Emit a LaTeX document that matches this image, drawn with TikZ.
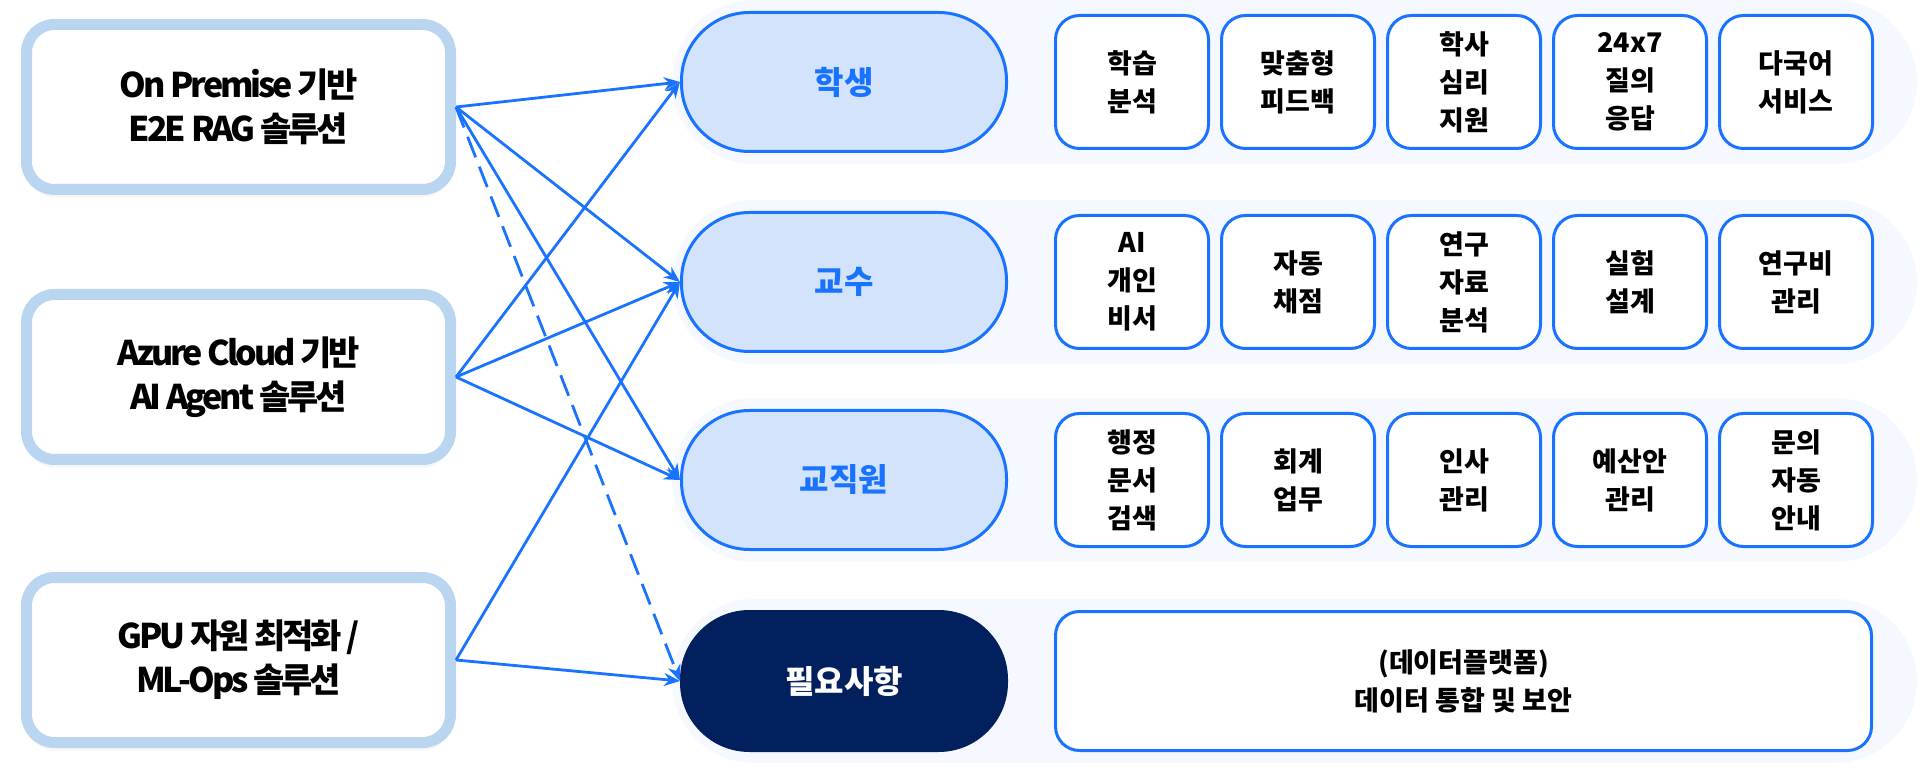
\documentclass[tikz,border=0pt]{standalone}
\usepackage{fontspec}
\setmainfont{Noto Sans CJK KR}
\newfontfamily\srcfont{Noto Sans CJK KR}[LetterSpace=-9]
\usetikzlibrary{positioning}
\usetikzlibrary{backgrounds}
\usetikzlibrary{arrows.meta,shadows}
\definecolor{lineblue}{HTML}{1A73FF}
\definecolor{pillfill}{HTML}{D3E3FC}
\definecolor{edgeblue}{HTML}{B9D5F0}
\definecolor{navy}{HTML}{03205E}
\definecolor{bandfill}{HTML}{F5F8FF}
\tikzstyle{srcbox}=[rectangle,draw=edgeblue,line width=5.5pt,fill=white,rounded corners=14pt,minimum width=212pt,minimum height=82.5pt,align=center,font=\srcfont\fontsize{17}{22}\selectfont\bfseries,drop shadow={opacity=0.07,shadow xshift=0pt,shadow yshift=-4pt}]
\tikzstyle{role}=[rectangle,draw=lineblue,line width=1.5pt,fill=pillfill,rounded corners=34pt,minimum width=162.5pt,minimum height=69.5pt,text=lineblue,font=\fontsize{16}{20}\selectfont\bfseries]
\tikzstyle{need}=[role,fill=navy,draw=navy,text=white]
\tikzstyle{task}=[rectangle,draw=lineblue,line width=1.5pt,fill=white,rounded corners=12pt,minimum width=76.5pt,minimum height=66.5pt,align=center,font=\fontsize{13.5}{19}\selectfont\bfseries]
\tikzstyle{band}=[rectangle,fill=bandfill,rounded corners=41pt,minimum width=622.5pt,minimum height=82pt]
\tikzstyle{link}=[draw=lineblue,line width=1.4pt,-{Stealth[length=8pt,width=6.5pt]}]

\begin{document}
\begin{tikzpicture}
    \useasboundingbox (0,0) rectangle (960pt,-387pt);

% solutions
\node (src0) [srcbox] at (119.25pt,-53.5pt) {On Premise 기반\\E2E RAG 솔루션};
\node (src1) [srcbox, below=47pt of src0] {Azure Cloud 기반\\AI Agent 솔루션};
\node (src2) [srcbox, below=53.5pt of src1] {GPU 자원 최적화 /\\ML-Ops 솔루션};

% users
\node (r0) [role] at (422pt,-41pt) {학생};
\node (r1) [role, below=29pt of r0] {교수};
\node (r2) [role, below=28pt of r1] {교직원};
\node (r3) [need, below=29.5pt of r2] {필요사항};

% tasks
\node (t00) [task, right=23pt of r0] {학습\\분석};
\node (t01) [task, right=5pt of t00] {맞춤형\\피드백};
\node (t02) [task, right=5pt of t01] {학사\\심리\\지원};
\node (t03) [task, right=5pt of t02] {24x7\\질의\\응답};
\node (t04) [task, right=5pt of t03] {다국어\\서비스};
\node (t10) [task, right=23pt of r1] {AI\\개인\\비서};
\node (t11) [task, right=5pt of t10] {자동\\채점};
\node (t12) [task, right=5pt of t11] {연구\\자료\\분석};
\node (t13) [task, right=5pt of t12] {실험\\설계};
\node (t14) [task, right=5pt of t13] {연구비\\관리};
\node (t20) [task, right=23pt of r2] {행정\\문서\\검색};
\node (t21) [task, right=5pt of t20] {회계\\업무};
\node (t22) [task, right=5pt of t21] {인사\\관리};
\node (t23) [task, right=5pt of t22] {예산안\\관리};
\node (t24) [task, right=5pt of t23] {문의\\자동\\안내};
\node (d0) [task, minimum width=408pt, minimum height=69.5pt, right=23pt of r3] {(데이터플랫폼)\\데이터 통합 및 보안};

% row bands
\begin{scope}[on background layer]
\coordinate (gx) at (647.25pt,0);
\node (g0) [band] at (gx |- r0) {};
\node (g1) [band] at (gx |- r1) {};
\node (g2) [band] at (gx |- r2) {};
\node (g3) [band] at (gx |- r3) {};
\end{scope}

% links
\draw [link] (src0.east) -- (r0.west);
\draw [link] (src0.east) -- (r1.west);
\draw [link] (src0.east) -- (r2.west);
\draw [link, dash pattern=on 11pt off 5pt] (src0.east) -- (r3.west);
\draw [link] (src1.east) -- (r0.west);
\draw [link] (src1.east) -- (r1.west);
\draw [link] (src1.east) -- (r2.west);
\draw [link] (src2.east) -- (r1.west);
\draw [link] (src2.east) -- (r3.west);
\end{tikzpicture}
\end{document}
